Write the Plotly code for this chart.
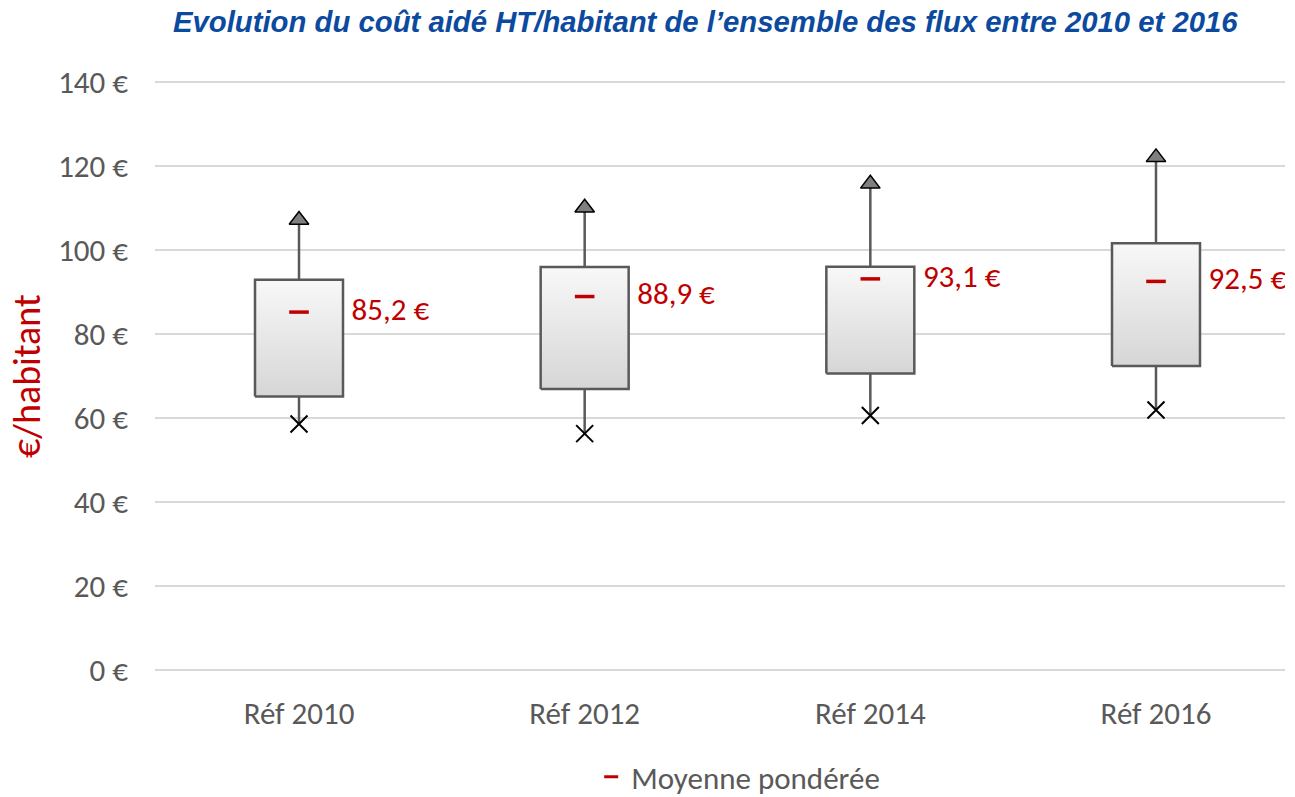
import plotly.graph_objects as go

categories = ["Réf 2010", "Réf 2012", "Réf 2014", "Réf 2016"]
q1_values = [65.1, 66.9, 70.6, 72.4]
q3_values = [92.9, 95.9, 96.0, 101.6]
min_values = [58.6, 56.3, 60.6, 61.9]
max_values = [107.1, 110.0, 115.7, 122.0]
mean_values = [85.2, 88.9, 93.1, 92.5]
mean_labels = ["85,2 €", "88,9 €", "93,1 €", "92,5 €"]
y_ticks = [0, 20, 40, 60, 80, 100, 120, 140]
y_tick_labels = ["0 €", "20 €", "40 €", "60 €", "80 €", "100 €", "120 €", "140 €"]

FONT = "Carlito, Lato, sans-serif"
GRAY = "#595959"
RED = "#c00000"
HALF = 0.154

fig = go.Figure()

# Boxes with vertical gradient
for i, (lo, hi) in enumerate(zip(q1_values, q3_values)):
    fig.add_trace(go.Scatter(
        x=[i - HALF, i + HALF, i + HALF, i - HALF, i - HALF],
        y=[lo, lo, hi, hi, lo],
        mode="lines", fill="toself",
        fillgradient=dict(type="vertical",
                          colorscale=[[0, "#d6d6d6"], [1, "#f8f8f8"]]),
        line=dict(color=GRAY, width=2.5),
        hoverinfo="skip", showlegend=False,
    ))

# Whiskers
wx, wy = [], []
for i in range(len(categories)):
    wx += [i, i, None, i, i, None]
    wy += [q3_values[i], max_values[i], None, q1_values[i], min_values[i], None]
fig.add_trace(go.Scatter(x=wx, y=wy, mode="lines",
                         line=dict(color=GRAY, width=2.5),
                         hoverinfo="skip", showlegend=False))

xs = list(range(len(categories)))

# Max markers
fig.add_trace(go.Scatter(x=xs, y=max_values, mode="markers",
                         marker=dict(symbol="triangle-up", size=17, color="#7f7f7f",
                                     line=dict(color="#000000", width=1.5)),
                         showlegend=False))
# Min markers
fig.add_trace(go.Scatter(x=xs, y=min_values, mode="markers",
                         marker=dict(symbol="x-thin", size=17, color="#000000",
                                     line=dict(color="#000000", width=2)),
                         showlegend=False))
# Mean markers
fig.add_trace(go.Scatter(x=xs, y=mean_values, mode="markers",
                         name="Moyenne pondérée",
                         marker=dict(symbol="line-ew", size=14, color=RED,
                                     line=dict(color=RED, width=3.5)),
                         showlegend=False))
# Legend entry (smaller dash, as in the reference legend)
fig.add_trace(go.Scatter(x=[None], y=[None], mode="markers",
                         name="Moyenne pondérée",
                         marker=dict(symbol="line-ew", size=10, color=RED,
                                     line=dict(color=RED, width=3)),
                         showlegend=True))
# Mean labels
fig.add_trace(go.Scatter(x=[x + HALF + 0.03 for x in xs], y=mean_values, mode="text",
                         text=mean_labels, textposition="middle right",
                         textfont=dict(family=FONT, size=31, color=RED),
                         hoverinfo="skip", showlegend=False))

fig.update_layout(
    width=1295, height=797,
    margin=dict(l=155, r=10, t=80, b=125, autoexpand=False),
    plot_bgcolor="white", paper_bgcolor="white",
    title=dict(text="<b><i>Evolution du coût aidé HT/habitant de l’ensemble des flux entre 2010 et 2016</i></b>",
               x=0.487, xanchor="center", xref="paper", y=0.9724, yanchor="middle",
               font=dict(family="Liberation Sans, Arial, sans-serif", size=29.3, color="#0b4a9e")),
    xaxis=dict(range=[-0.5041, 3.4516], tickvals=xs, ticktext=categories,
               showgrid=False, zeroline=False, showline=False, ticks="",
               tickfont=dict(family=FONT, size=31, color=GRAY), ticklabelstandoff=20),
    yaxis=dict(range=[-0.4, 140.4], tickvals=y_ticks, ticktext=y_tick_labels,
               showgrid=True, gridcolor="#d9d9d9", gridwidth=2, zeroline=False,
               showline=False, ticks="",
               tickfont=dict(family=FONT, size=31, color=GRAY), ticklabelstandoff=26),
    legend=dict(orientation="h", x=0.386, y=-0.1777, xanchor="left", yanchor="middle",
                font=dict(family=FONT, size=31, color=GRAY), itemwidth=30),
    annotations=[dict(text="€/habitant", textangle=-90, xref="paper", yref="paper",
                      x=-0.1133, y=0.5, xanchor="center", yanchor="middle", showarrow=False,
                      font=dict(family=FONT, size=38, color=RED))],
)

fig.write_html("out.html", config={"displayModeBar": False},
               post_script="document.body.style.margin='0px';")
